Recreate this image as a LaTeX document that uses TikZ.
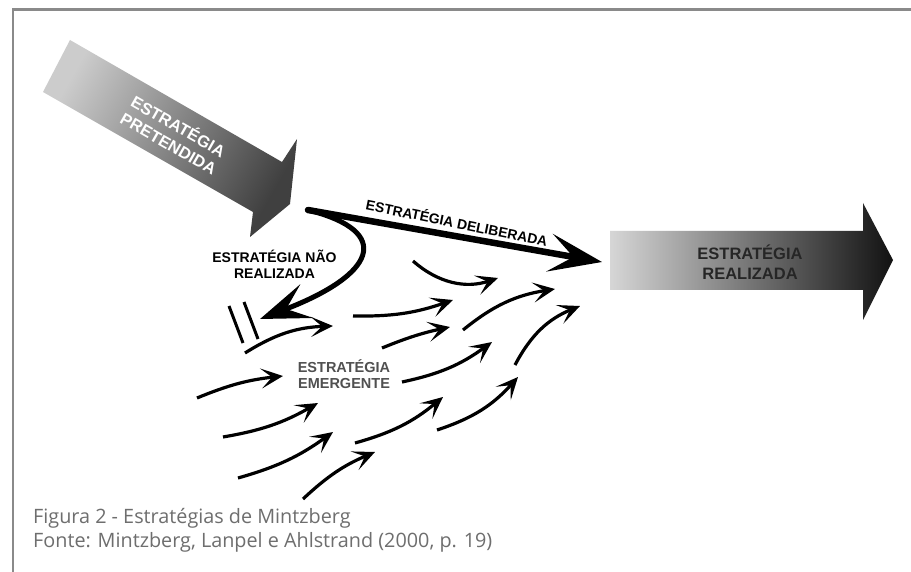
\documentclass[tikz,border=0pt]{standalone}
\usepackage{fontspec}
\setmainfont{Liberation Sans}
\newfontfamily\capfont{Open Sans}
\usetikzlibrary{arrows.meta}
\definecolor{framegray}{HTML}{8A8A8A}
\definecolor{capgray}{HTML}{6E6E6E}
\definecolor{emgray}{HTML}{505050}
\begin{document}
\begin{tikzpicture}[x=1pt,y=1pt,
  lbl/.style={font=\bfseries\fontsize{14}{16}\selectfont, align=center, inner sep=0pt},
  biglbl/.style={font=\bfseries\fontsize{16.5}{19.5}\selectfont, align=center, inner sep=0pt},
  emarrow/.style={line width=3.2pt, -{Stealth[length=22pt,width=20pt,inset=11pt]}},
  capstyle/.style={anchor=base west, inner sep=0pt, text=capgray, font=\capfont\fontsize{19.8}{22}\selectfont}]
\useasboundingbox (0,0) rectangle (911,-572);
\fill[white] (0,0) rectangle (911,-572);
% frame
\draw[framegray, line width=2.5pt] (12.8,-572) -- (12.8,-9.5) -- (911,-9.5);
% pretended arrow
\shade[left color=black!20, right color=black!75, shading angle=60.4]
  (70,-40) -- (282,-162) -- (297,-139) -- (290,-204) -- (250,-237) -- (253,-212) -- (43,-92) -- cycle;
\node[biglbl, text=white, rotate=-29.7] (pt) at (174,-134) {ESTRATÉGIA\\PRETENDIDA};
% realized arrow
\shade[left color=black!16, right color=black!93]
  (610,-231) -- (863,-231) -- (863,-203) -- (893,-260) -- (863,-320) -- (863,-290) -- (610,-290) -- cycle;
\node[biglbl, text=black!85] (rt) at (750,-262) {ESTRATÉGIA\\REALIZADA};
% deliberate and unrealized
\coordinate (src) at (308,-210);
\coordinate (delTip) at (602,-262);
\coordinate (nrTip) at (260,-319);
\draw[line width=6.5pt, line cap=round, -{Stealth[length=53pt,width=38pt,inset=24pt]}] (src) -- (delTip);
\draw[line width=5pt, line cap=round, -{Stealth[length=50pt,width=36pt,inset=22pt]}] (src) .. controls (395,-232) and (375,-275) .. (nrTip);
\node[lbl, rotate=-11.5] (dl) at (457,-222) {ESTRATÉGIA DELIBERADA};
\node[lbl] (nrl) at (274.5,-264) {ESTRATÉGIA NÃO\\REALIZADA};
% slashes
\coordinate (k1a) at (229,-306); \coordinate (k1b) at (243,-343);
\coordinate (k2a) at (244,-302); \coordinate (k2b) at (258,-339);
\draw[line width=3pt] (k1a) -- (k1b);
\draw[line width=3pt] (k2a) -- (k2b);
% emergent
\node[lbl, text=emgray, font=\bfseries\fontsize{14.5}{16}\selectfont] (em) at (344,-374) {ESTRATÉGIA\\EMERGENTE};
\foreach \n/\sx/\sy/\ex/\ey/\b in {
  a/245/353/333/326/15, b/197/398/283/376/8, c/223/437/318/403/-10,
  d/238/478/333/432/-10, e/303/499/375/452/10, f/355/443/443/397/-12,
  g/437/430/518/377/-15, h/402/382/492/342/-12, i/515/365/580/306/20,
  j/382/348/450/327/5, k/353/316/453/300/-10, l/463/330/555/289/15,
  m/413/261/498/278/-30}{
  \coordinate (\n0) at (\sx,-\sy);
  \coordinate (\n1) at (\ex,-\ey);
  \draw[emarrow] (\n0) to[bend left=\b] (\n1);
}
% caption
\node[capstyle] (cap1) at (33,-523) {Figura 2 - Estratégias de Mintzberg};
\node[capstyle] (cap2) at (33,-547) {Fonte: Mintzberg, Lanpel e Ahlstrand (2000, p. 19)};
\end{tikzpicture}
\end{document}
